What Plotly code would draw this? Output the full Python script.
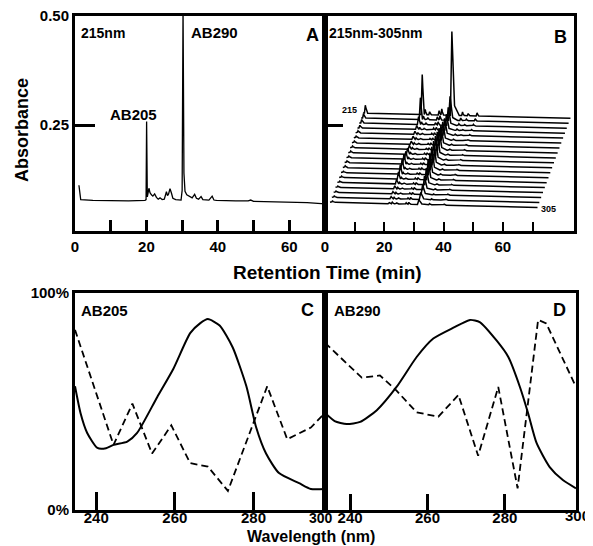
import numpy as np
import plotly.graph_objects as go

# ---------------- Panel A: chromatogram at 215 nm ----------------
a_time = [1.1, 1.6, 5, 10, 15, 19.6, 19.9, 20.05, 20.25, 20.7, 21.0, 21.4, 21.8, 22.3, 22.8,
          23.3, 23.8, 24.4, 25.0, 25.6, 25.9, 26.2, 26.6, 27.0, 27.4, 28.2, 29.0, 29.7, 30.0,
          30.25, 30.5, 30.8, 31.3, 32.0, 32.8, 33.5, 34.0, 34.6, 35.3, 35.8, 36.5, 37.5, 38.4,
          38.9, 39.6, 42, 45, 48.5, 49.2, 50, 55, 60, 65, 70]
a_abs = [0.112, 0.079, 0.077, 0.076, 0.076, 0.077, 0.079, 0.258, 0.085, 0.105, 0.095, 0.090,
         0.087, 0.092, 0.084, 0.080, 0.083, 0.079, 0.080, 0.097, 0.088, 0.092, 0.104, 0.094,
         0.082, 0.079, 0.078, 0.078, 0.100, 0.520, 0.140, 0.098, 0.090, 0.086, 0.083, 0.091,
         0.082, 0.080, 0.086, 0.079, 0.078, 0.078, 0.087, 0.078, 0.077, 0.076, 0.076, 0.076,
         0.078, 0.075, 0.074, 0.073, 0.072, 0.069]

# ---------------- Panel B: 215-305 nm stacked chromatograms ----------------
b_wavelengths = [215, 220, 225, 230, 235, 240, 245, 250, 255, 260,
                 265, 270, 275, 280, 285, 290, 295, 300, 305]
b_ab205 = [0.092, 0.050, 0.018, 0.009, 0.007, 0.007, 0.007, 0.009, 0.014, 0.018,
           0.023, 0.023, 0.021, 0.016, 0.011, 0.007, 0.005, 0.005, 0.003]
b_ab290 = [0.211, 0.060, 0.045, 0.040, 0.042, 0.046, 0.050, 0.055, 0.058, 0.060,
           0.060, 0.058, 0.055, 0.050, 0.042, 0.034, 0.025, 0.018, 0.012]
b_start = [0.018, 0.010, 0.008, 0.006, 0.005, 0.004, 0.004, 0.004, 0.004, 0.004,
           0.004, 0.004, 0.003, 0.003, 0.003, 0.003, 0.003, 0.003, 0.003]
b_minor_time = [21.0, 22.5, 25.7, 26.6, 33.6, 35.5, 38.5]
b_minor_215 = [0.012, 0.007, 0.010, 0.014, 0.008, 0.005, 0.007]
b_minor_scale = [1.0, 0.7, 0.5, 0.4, 0.35, 0.3, 0.3, 0.3, 0.3, 0.3,
                 0.3, 0.3, 0.3, 0.3, 0.3, 0.3, 0.3, 0.3, 0.3]

# ---------------- Panels C / D: spectra (% of max) ----------------
c_solid_wl = [234.6, 236.0, 237.7, 240.3, 242.5, 244.4, 247.9, 250.4, 255.5, 259.6, 263.9,
              266.4, 268.4, 271.4, 274.7, 278.2, 280.7, 283.2, 286.5, 291.6, 294.6, 298.2]
c_solid = [57, 44.7, 35.5, 28.6, 28.5, 30, 31.5, 35.5, 52, 65, 81.5,
           86, 88, 85, 75, 57, 38, 26, 17, 12.4, 9.7, 9.7]
c_dash_wl = [234.6, 244.4, 249.2, 254.2, 259.1, 263.9, 268.4, 273.5, 283.5, 288.6, 294.6, 298.2]
c_dash = [83, 30, 49, 26, 39, 21.6, 20, 8.8, 57, 32.6, 38, 44.7]

d_solid_wl = [233.5, 236.0, 239.1, 242.6, 246.9, 252.0, 257.2, 261.5, 266.7, 271.0, 273.5,
              277.9, 280.9, 283.9, 286.0, 288.2, 291.6, 295.0, 298.4]
d_solid = [44.7, 41, 39.6, 40.6, 46, 56.7, 70.5, 79, 84, 87.6, 86.6,
           78, 70.5, 56.7, 44.7, 30.9, 19.8, 13.8, 10]
d_dash_wl = [233.5, 238.2, 243.0, 247.7, 252.0, 257.2, 262.8, 268.0, 273.1, 278.3, 283.3,
             288.6, 290.7, 298.4]
d_dash = [77, 69, 61, 62, 55, 45, 43, 53, 25, 56.7, 10, 87.6, 86, 56.7]

# ---------------- helpers ----------------
W, H = 593, 546
OFF = 8  # page body margin shifts the figure by 8 px
FONT = "Liberation Sans"


def fnt(size):
    return dict(family=FONT, size=size, color="black", weight="bold")


def px(x):
    return (x - OFF) / W


def py(y):
    return 1 - (y - OFF) / H


fig = go.Figure()

# Panel A
fig.add_trace(go.Scatter(x=a_time, y=a_abs, mode="lines",
                         line=dict(color="black", width=1.3),
                         xaxis="x", yaxis="y", showlegend=False))

# Panel B waterfall
t_grid = np.round(np.arange(0, 70.01, 0.1), 2)


def tri(t0, h, wl, wr):
    return np.interp(t_grid, [t0 - wl, t0, t0 + wr], [0, h, 0])


back_base = 0.2775
step_base = 0.01136
back_shift = 12.8
step_shift = 0.617
for i, wl in enumerate(b_wavelengths):
    y = back_base - i * step_base - 0.012 * t_grid / 70
    y = y + tri(0.8, b_start[i], 0.3, 0.6)
    y = y + tri(20.0, b_ab205[i], 0.4, 0.6)
    y = y + tri(30.0, b_ab290[i] * 0.85, 0.5, 0.7) + tri(30.3, b_ab290[i] * 0.15, 0.5, 2.0)
    for tm, hm in zip(b_minor_time, b_minor_215):
        y = y + tri(tm, hm * b_minor_scale[i], 0.3, 0.4)
    x = t_grid + back_shift - i * step_shift
    fig.add_trace(go.Scatter(x=x, y=y, mode="lines",
                             line=dict(color="black", width=1.5),
                             xaxis="x2", yaxis="y2", showlegend=False))

# Panel C
fig.add_trace(go.Scatter(x=c_solid_wl, y=c_solid, mode="lines",
                         line=dict(color="black", width=2, shape="spline", smoothing=0.6),
                         xaxis="x3", yaxis="y3", showlegend=False))
fig.add_trace(go.Scatter(x=c_dash_wl, y=c_dash, mode="lines",
                         line=dict(color="black", width=1.8, dash="7px,4px"),
                         xaxis="x3", yaxis="y3", showlegend=False))
# Panel D
fig.add_trace(go.Scatter(x=d_solid_wl, y=d_solid, mode="lines",
                         line=dict(color="black", width=2, shape="spline", smoothing=0.6),
                         xaxis="x4", yaxis="y4", showlegend=False))
fig.add_trace(go.Scatter(x=d_dash_wl, y=d_dash, mode="lines",
                         line=dict(color="black", width=1.8, dash="7px,4px"),
                         xaxis="x4", yaxis="y4", showlegend=False))

common = dict(showline=True, linewidth=3, linecolor="black", mirror=True, automargin=False,
              showgrid=False, zeroline=False, tickcolor="black", tickfont=fnt(15),
              ticklabeloverflow="allow")

dom_top = [py(231), py(16)]
dom_bot = [py(510), py(293)]
dom_left = [px(75), px(325)]
dom_right_top = [px(325), px(574)]
dom_right_bot = [px(325), px(576)]

fig.update_layout(
    width=W, height=H, margin=dict(l=0, r=0, t=0, b=0, pad=0),
    paper_bgcolor="white", plot_bgcolor="white",
    xaxis=dict(domain=dom_left, anchor="y", range=[0, 70],
               tickvals=[0, 10, 20, 30, 40, 50, 60],
               ticktext=["0", "", "20", "", "40", "", "60"],
               ticks="inside", ticklen=11, tickwidth=3, **common),
    yaxis=dict(domain=dom_top, anchor="x", range=[0.007, 0.5],
               tickvals=[0.25, 0.5], ticktext=["0.25", "0.50"],
               ticks="inside", ticklen=20, tickwidth=3, **common),
    xaxis2=dict(domain=dom_right_top, anchor="y2", range=[0, 84],
                tickvals=[0, 10, 20, 30, 40, 50, 60, 70],
                ticktext=["0", "", "20", "", "40", "", "60", ""],
                ticks="inside", ticklen=9, tickwidth=2, **common),
    yaxis2=dict(domain=dom_top, anchor="x2", range=[0.007, 0.5],
                tickvals=[0.25], showticklabels=False,
                ticks="inside", ticklen=18, tickwidth=3, **common),
    xaxis3=dict(domain=dom_left, anchor="y3", range=[234.6, 298.2],
                tickvals=[240, 260, 280], ticktext=["240", "260", "280"],
                ticks="inside", ticklen=18, tickwidth=3, ticklabelstandoff=-8, **common),
    yaxis3=dict(domain=dom_bot, anchor="x3", range=[0, 100],
                tickvals=[0, 100], ticktext=["0%", "100%"], ticks="", **common),
    xaxis4=dict(domain=dom_right_bot, anchor="y4", range=[233.5, 298.4],
                tickvals=[240, 260, 280], ticktext=["240", "260", "280"],
                ticks="inside", ticklen=16, tickwidth=3, ticklabelstandoff=-8, **common),
    yaxis4=dict(domain=dom_bot, anchor="x4", range=[0, 100],
                showticklabels=False, ticks="", **common),
)

ann = [
    ("Absorbance", 22, 130, 18, "center", -90),
    ("Retention Time (min)", 327, 272, 19, "center", 0),
    ("Wavelength (nm)", 311, 536, 16, "center", 0),
    ("215nm", 80, 33, 14, "left", 0),
    ("AB290", 190, 33, 15, "left", 0),
    ("A", 312, 35, 18, "center", 0),
    ("AB205", 133, 115, 15, "center", 0),
    ("215nm-305nm", 328, 33, 14, "left", 0),
    ("B", 560, 37, 18, "center", 0),
    ("215", 349, 110, 9, "center", 0),
    ("305", 548, 209, 9, "center", 0),
    ("AB205", 80, 310, 15, "left", 0),
    ("C", 307, 310, 18, "center", 0),
    ("AB290", 333, 310, 15, "left", 0),
    ("D", 559, 310, 18, "center", 0),
    ("300", 321, 518, 14, "center", 0),
    ("300", 577, 515, 15, "center", 0),
]
for text, x, y, size, xa, ang in ann:
    fig.add_annotation(text=text, x=px(x), y=py(y), xref="paper", yref="paper",
                       xanchor=xa, yanchor="middle", showarrow=False, borderpad=0,
                       textangle=ang, font=fnt(size))

fig.write_html("out.html")
